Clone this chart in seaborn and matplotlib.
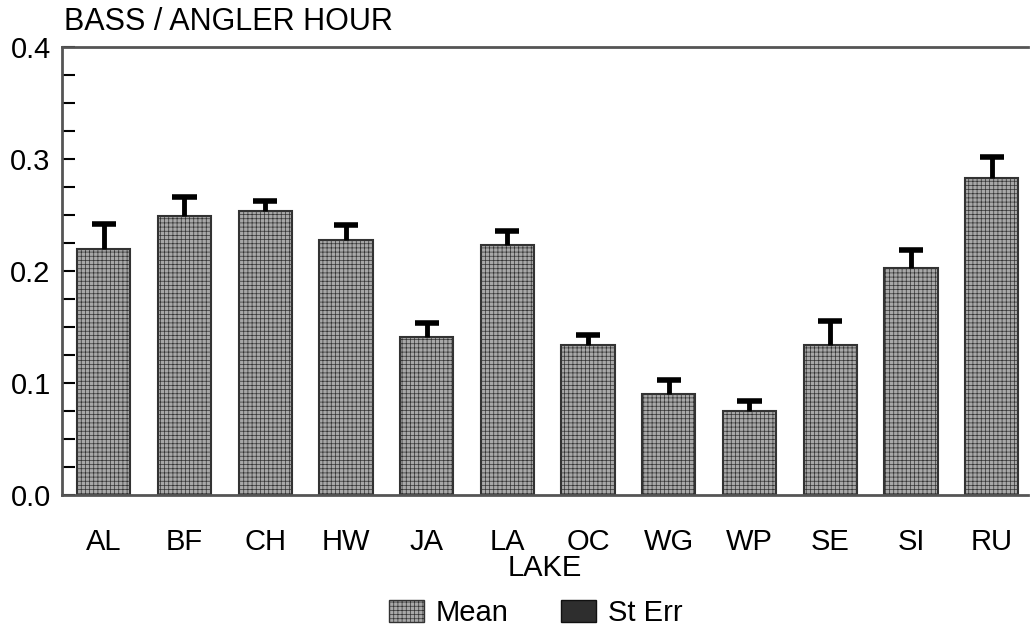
import numpy as np
import matplotlib
matplotlib.use("Agg")
import matplotlib.pyplot as plt
from matplotlib.patches import Patch
from matplotlib.ticker import MultipleLocator, FormatStrFormatter
import seaborn as sns

# values
lakes = ["AL", "BF", "CH", "HW", "JA", "LA", "OC", "WG", "WP", "SE", "SI", "RU"]
mean_catch = [0.220, 0.249, 0.254, 0.228, 0.141, 0.223, 0.134, 0.090, 0.075, 0.134, 0.203, 0.283]
st_err = [0.022, 0.017, 0.009, 0.013, 0.013, 0.013, 0.009, 0.013, 0.009, 0.021, 0.016, 0.019]

sns.set_style("white")
plt.rcParams['font.family'] = ['Liberation Sans', 'DejaVu Sans']
plt.rcParams['text.color'] = 'black'
plt.rcParams['xtick.color'] = 'black'
plt.rcParams['ytick.color'] = 'black'
plt.rcParams['axes.labelcolor'] = 'black'
plt.rcParams['hatch.linewidth'] = 0.5

fig = plt.figure(figsize=(10.3, 6.37), dpi=100)
ax = fig.add_axes([0.060, 0.223, 0.938, 0.703])

bar_face = "#a8a8a8"
bar_edge = "#333333"
sns.barplot(x=lakes, y=mean_catch, color=bar_face, width=0.66,
            edgecolor=bar_edge, linewidth=1.5, saturation=1, ax=ax)
for bar in ax.patches:
    bar.set_hatch("++++")

# one-sided error bars (upward only)
x = np.arange(len(lakes))
tops = np.array(mean_catch) + np.array(st_err)
ax.vlines(x, mean_catch, tops, color="black", linewidth=3.5)
ax.hlines(tops, x - 0.15, x + 0.15, color="black", linewidth=4)

ax.set_ylim(0, 0.4)
ax.set_xlim(-0.52, 11.45)
ax.yaxis.set_major_locator(MultipleLocator(0.1))
ax.yaxis.set_minor_locator(MultipleLocator(0.025))
ax.yaxis.set_major_formatter(FormatStrFormatter("%.1f"))
ax.tick_params(axis="y", which="both", direction="in", length=9, width=1.5,
               left=True, labelsize=21, pad=8)
ax.tick_params(axis="x", length=0, labelsize=21, pad=24)

for side in ["left", "top", "bottom"]:
    ax.spines[side].set_color("#555555")
    ax.spines[side].set_linewidth(2)
ax.spines["right"].set_visible(False)

ax.set_xlabel("LAKE", fontsize=21, labelpad=-2)
ax.set_ylabel("")
fig.text(0.062, 0.942, "BASS / ANGLER HOUR", fontsize=22, ha="left", va="bottom")

handles = [Patch(facecolor=bar_face, edgecolor=bar_edge, hatch="++++", label="Mean"),
           Patch(facecolor="#2e2e2e", edgecolor="#111111", label="St Err")]
fig.legend(handles=handles, loc="center", bbox_to_anchor=(0.52, 0.038), ncol=2,
           frameon=False, fontsize=21, handlelength=1.2, handleheight=0.8,
           columnspacing=1.8, handletextpad=0.4)

fig.savefig("out.png", dpi=100)
